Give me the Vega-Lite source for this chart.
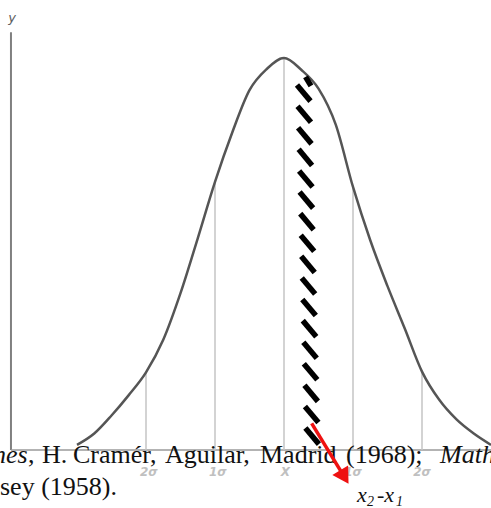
{
  "$schema": "https://vega.github.io/schema/vega-lite/v6.json",
  "width": 491,
  "height": 508,
  "autosize": {"type": "none"},
  "padding": 0,
  "background": "white",
  "config": {"view": {"stroke": null}},
  "datasets": {
    "curve": [
      {"x": -3.0, "y": 0.013}, {"x": -2.75, "y": 0.042}, {"x": -2.5, "y": 0.088},
      {"x": -2.25, "y": 0.14}, {"x": -2.0, "y": 0.198}, {"x": -1.75, "y": 0.281},
      {"x": -1.5, "y": 0.4}, {"x": -1.25, "y": 0.54}, {"x": -1.0, "y": 0.684},
      {"x": -0.75, "y": 0.81}, {"x": -0.5, "y": 0.918}, {"x": -0.25, "y": 0.972},
      {"x": 0.0, "y": 1.0}, {"x": 0.25, "y": 0.97}, {"x": 0.5, "y": 0.922},
      {"x": 0.75, "y": 0.83}, {"x": 1.0, "y": 0.671}, {"x": 1.25, "y": 0.535},
      {"x": 1.5, "y": 0.418}, {"x": 1.75, "y": 0.31}, {"x": 2.0, "y": 0.2},
      {"x": 2.25, "y": 0.128}, {"x": 2.5, "y": 0.078}, {"x": 2.75, "y": 0.042},
      {"x": 3.0, "y": 0.013}
    ],
    "grid": [
      {"x": -2, "y": 0, "y2": 0.198}, {"x": -1, "y": 0, "y2": 0.684},
      {"x": 0, "y": 0, "y2": 1.0}, {"x": 1, "y": 0, "y2": 0.671},
      {"x": 2, "y": 0, "y2": 0.2}
    ],
    "hatch": [
      {"x": 0.312, "y": 0.952, "x2": 0.391, "y2": 0.929},
      {"x": 0.188, "y": 0.931, "x2": 0.384, "y2": 0.89},
      {"x": 0.196, "y": 0.877, "x2": 0.391, "y2": 0.836},
      {"x": 0.204, "y": 0.822, "x2": 0.4, "y2": 0.781},
      {"x": 0.212, "y": 0.767, "x2": 0.407, "y2": 0.726},
      {"x": 0.219, "y": 0.712, "x2": 0.414, "y2": 0.671},
      {"x": 0.226, "y": 0.658, "x2": 0.422, "y2": 0.617},
      {"x": 0.235, "y": 0.603, "x2": 0.43, "y2": 0.562},
      {"x": 0.242, "y": 0.548, "x2": 0.438, "y2": 0.507},
      {"x": 0.249, "y": 0.494, "x2": 0.445, "y2": 0.453},
      {"x": 0.257, "y": 0.439, "x2": 0.452, "y2": 0.398},
      {"x": 0.265, "y": 0.384, "x2": 0.461, "y2": 0.343},
      {"x": 0.272, "y": 0.33, "x2": 0.468, "y2": 0.289},
      {"x": 0.28, "y": 0.275, "x2": 0.475, "y2": 0.234},
      {"x": 0.287, "y": 0.22, "x2": 0.483, "y2": 0.179},
      {"x": 0.296, "y": 0.165, "x2": 0.491, "y2": 0.124},
      {"x": 0.303, "y": 0.111, "x2": 0.499, "y2": 0.07},
      {"x": 0.31, "y": 0.056, "x2": 0.506, "y2": 0.015}
    ],
    "ticks": [
      {"x": -1.96, "y": -0.056, "label": "2σ"},
      {"x": -0.96, "y": -0.056, "label": "1σ"},
      {"x": 0.02, "y": -0.056, "label": "X"},
      {"x": 1.0, "y": -0.056, "label": "1σ"},
      {"x": 2.0, "y": -0.056, "label": "2σ"}
    ],
    "words": [
      {"x": -3.71, "y": -0.0332, "label": ","},
      {"x": -3.507, "y": -0.0332, "label": "H."},
      {"x": -3.058, "y": -0.0332, "label": "Cramér,"},
      {"x": -1.725, "y": -0.0332, "label": "Aguilar,"},
      {"x": -0.348, "y": -0.0332, "label": "Madrid"},
      {"x": 0.899, "y": -0.0332, "label": "(1968);"},
      {"x": -4.116, "y": -0.1148, "label": "sey (1958)."}
    ],
    "italicWords": [
      {"x": -4.217, "y": -0.0332, "label": "nes"},
      {"x": 2.261, "y": -0.0332, "label": "Math"}
    ]
  },
  "encoding": {
    "x": {"field": "x", "type": "quantitative", "scale": {"domain": [-4.116, 3.0], "nice": false, "zero": false}, "axis": null},
    "y": {"field": "y", "type": "quantitative", "scale": {"domain": [-0.148, 1.148], "nice": false, "zero": false}, "axis": null}
  },
  "layer": [
    {
      "data": {"values": [{"x": -3.957, "y": 0, "y2": 1.066}]},
      "mark": {"type": "rule", "color": "#808080", "strokeWidth": 2},
      "encoding": {"y2": {"field": "y2"}}
    },
    {
      "data": {"values": [{"x": -3.957, "x2": 3.0, "y": 0}]},
      "mark": {"type": "rule", "color": "#9a9a9a", "strokeWidth": 1.5},
      "encoding": {"x2": {"field": "x2"}}
    },
    {
      "data": {"name": "grid"},
      "mark": {"type": "rule", "color": "#c4c4c4", "strokeWidth": 1.5},
      "encoding": {"y2": {"field": "y2"}}
    },
    {
      "data": {"name": "curve"},
      "mark": {"type": "line", "color": "#555555", "strokeWidth": 2.5, "interpolate": "monotone"},
      "encoding": {}
    },
    {
      "data": {"name": "hatch"},
      "mark": {"type": "rule", "color": "#000000", "strokeWidth": 5.5, "strokeCap": "butt"},
      "encoding": {"x2": {"field": "x2"}, "y2": {"field": "y2"}}
    },
    {
      "data": {"name": "ticks"},
      "mark": {"type": "text", "font": "DejaVu Sans", "fontSize": 12, "fontStyle": "italic", "fontWeight": "bold", "color": "#c0c0c0", "baseline": "middle", "align": "center"},
      "encoding": {"text": {"field": "label"}}
    },
    {
      "data": {"values": [{"x": -3.942, "y": 1.102, "label": "y"}]},
      "mark": {"type": "text", "font": "DejaVu Sans", "fontSize": 13, "fontStyle": "italic", "color": "#606060", "baseline": "middle", "align": "center"},
      "encoding": {"text": {"field": "label"}}
    },
    {
      "data": {"name": "italicWords"},
      "mark": {"type": "text", "font": "Liberation Serif", "fontSize": 26, "fontStyle": "italic", "color": "#111111", "baseline": "alphabetic", "align": "left"},
      "encoding": {"text": {"field": "label"}}
    },
    {
      "data": {"name": "words"},
      "mark": {"type": "text", "font": "Liberation Serif", "fontSize": 26, "color": "#111111", "baseline": "alphabetic", "align": "left"},
      "encoding": {"text": {"field": "label"}}
    },
    {
      "data": {"values": [{"x": 0.401, "y": 0.068, "x2": 0.841, "y2": -0.059}]},
      "mark": {"type": "rule", "color": "#ee1111", "strokeWidth": 3.5},
      "encoding": {"x2": {"field": "x2"}, "y2": {"field": "y2"}}
    },
    {
      "data": {"values": [{"x": 0.875, "y": -0.069}]},
      "mark": {"type": "point", "shape": "triangle-down", "filled": true, "color": "#ee1111", "opacity": 1, "size": 340, "angle": 328.6},
      "encoding": {}
    },
    {
      "data": {"values": [{"x": 1.058, "y": -0.133, "label": "x"}, {"x": 1.348, "y": -0.133, "label": "-x"}]},
      "mark": {"type": "text", "font": "Liberation Serif", "fontSize": 22, "fontStyle": "italic", "color": "#111111", "baseline": "alphabetic", "align": "left"},
      "encoding": {"text": {"field": "label"}}
    },
    {
      "data": {"values": [{"x": 1.203, "y": -0.143, "label": "2"}, {"x": 1.623, "y": -0.143, "label": "1"}]},
      "mark": {"type": "text", "font": "Liberation Serif", "fontSize": 14, "fontStyle": "italic", "color": "#111111", "baseline": "alphabetic", "align": "left"},
      "encoding": {"text": {"field": "label"}}
    }
  ]
}
